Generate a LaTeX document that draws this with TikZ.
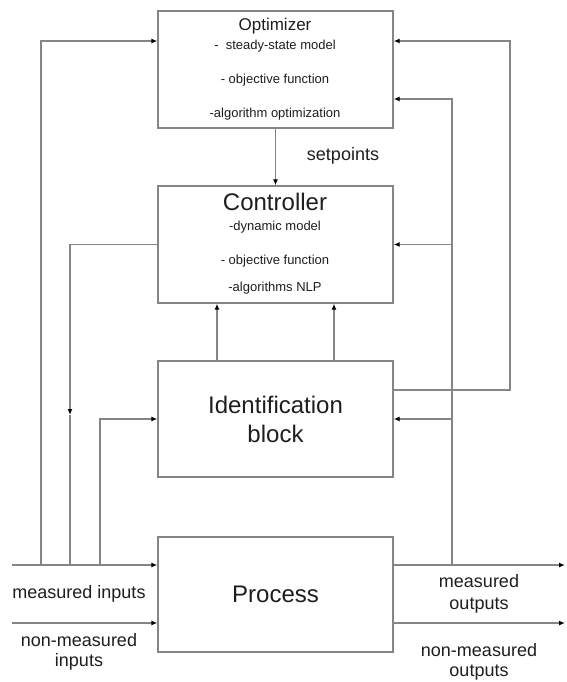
\documentclass[tikz,border=0pt]{standalone}
\usepackage{fontspec}
\setmainfont{Liberation Sans}
\usetikzlibrary{arrows.meta,positioning,calc}
\definecolor{Wire}{HTML}{858585}
\definecolor{Ink}{HTML}{1E1E1E}
\tikzset{
schemebox/.style={draw=Wire, line width=1.4pt, minimum width=235pt, inner sep=0pt, align=center, text=Ink},
schemeitem/.style={inner sep=0pt, text=Ink, font=\fontsize{13}{15}\selectfont},
schemelabel/.style={inner sep=0pt, align=center, text=Ink, font=\fontsize{18}{21}\selectfont},
schemetitle/.style={inner sep=0pt, align=center, text=Ink, font=\fontsize{24}{29}\selectfont},
schemeline/.style={draw=Wire, line width=1.2pt},
schemearrow/.style={schemeline, -{Latex[length=6pt,width=5pt,color=black]}}
}
\begin{document}
\begin{tikzpicture}[x=1pt, y=-1pt]
  \useasboundingbox (0,0) rectangle (566,682);
  % blocks
  \node[schemebox, minimum height=117pt] (opt) at (275.5,69.5) {};
  \node[schemebox, minimum height=117pt] (ctrl) at (275.5,244.5) {};
  \node[schemebox, minimum height=116pt, font=\fontsize{24}{29}\selectfont] (ident) at (275.5,419) {Identification\\block};
  \node[schemebox, minimum height=115pt, font=\fontsize{24}{29}\selectfont] (proc) at (275.5,594.5) {Process};
  % block texts
  \node[schemeitem, font=\fontsize{17}{20}\selectfont] (opttitle) at (275,26) {Optimizer};
  \node[schemeitem] (optmodel) at (275,46) {-\ \ steady-state model};
  \node[schemeitem] (optobj) at (275,80) {- objective function};
  \node[schemeitem] (optalg) at (275,114) {-algorithm optimization};
  \node[schemetitle] (ctrltitle) at (275,202) {Controller};
  \node[schemeitem] (ctrlmodel) at (275,227) {-dynamic model};
  \node[schemeitem] (ctrlobj) at (275,261) {- objective function};
  \node[schemeitem] (ctrlalg) at (275,288) {-algorithms NLP};
  % signal labels
  \node[schemelabel] (setp) at (343,156) {setpoints};
  \node[schemelabel] (minlbl) at (79,594) {measured inputs};
  \node[schemelabel, font=\fontsize{18}{20}\selectfont] (nminlbl) at (79,652) {non-measured\\inputs};
  \node[schemelabel, font=\fontsize{18}{22}\selectfont] (moutlbl) at (479,594) {measured\\outputs};
  \node[schemelabel, font=\fontsize{18}{20}\selectfont] (nmoutlbl) at (479,662) {non-measured\\outputs};
  % junction points
  \coordinate (in1) at (12,565);
  \coordinate (in2) at (12,623);
  \coordinate (out1) at (565,565);
  \coordinate (out2) at (565,623);
  \coordinate (j1) at (41,565);
  \coordinate (j2) at (70,565);
  \coordinate (m2) at (70,415);
  \coordinate (j3) at (100,565);
  \coordinate (j4) at (452,565);
  \coordinate (b1) at (452,244.5);
  \coordinate (b2) at (452,419);
  \coordinate (r1) at (510,41);
  % process inputs and outputs
  \draw[schemearrow] (in1) -- (in1 -| proc.west);
  \draw[schemearrow] (in2) -- (in2 -| proc.west);
  \draw[schemearrow] (in1 -| proc.east) -- (out1);
  \draw[schemearrow] (in2 -| proc.east) -- (out2);
  % left feeds
  \draw[schemearrow] (j1) |- ([yshift=28.5pt]opt.west);
  \draw[schemearrow] (ctrl.west) -| (m2);
  \draw[schemeline] (m2) -- (j2);
  \draw[schemearrow] (j3) |- (ident.west);
  % right feedbacks
  \draw[schemearrow] (j4) |- ([yshift=-29.5pt]opt.east);
  \draw[schemearrow] (b1) -- (ctrl.east);
  \draw[schemearrow] (b2) -- (ident.east);
  \draw[schemearrow] ([yshift=29pt]ident.east) -| (r1) -- ([yshift=28.5pt]opt.east);
  % vertical links
  \draw[schemearrow] (opt.south) -- (ctrl.north);
  \draw[schemearrow] ([xshift=-58.5pt]ident.north) -- ([xshift=-58.5pt]ctrl.south);
  \draw[schemearrow] ([xshift=58.5pt]ident.north) -- ([xshift=58.5pt]ctrl.south);
\end{tikzpicture}
\end{document}
